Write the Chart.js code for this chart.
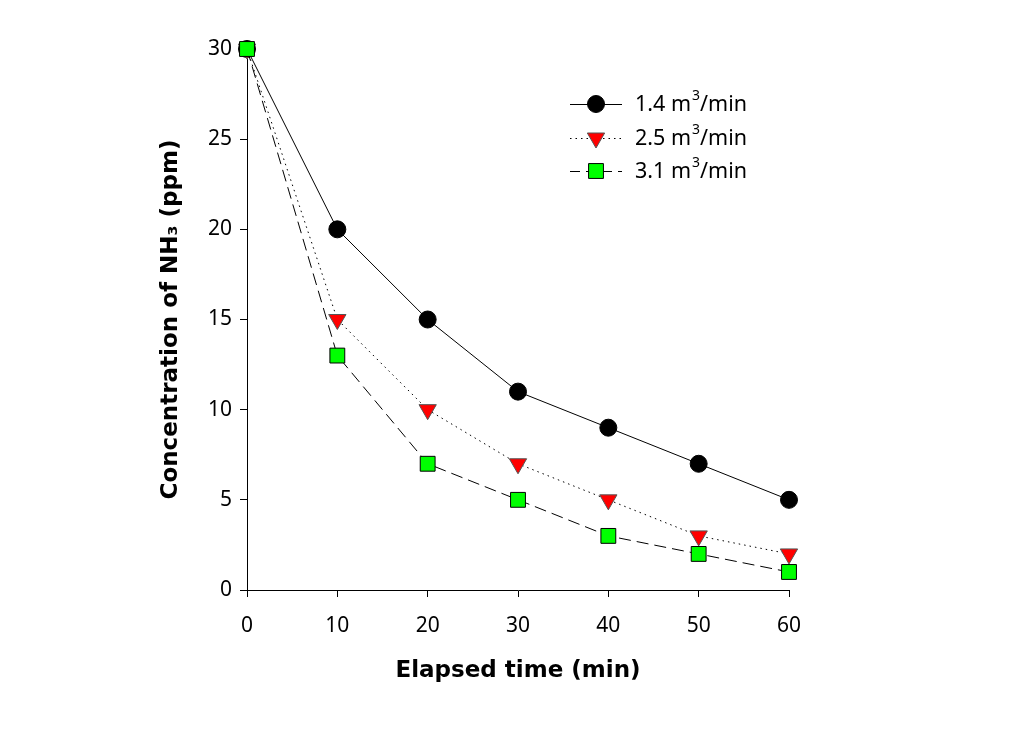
<!DOCTYPE html>
<html>
<head>
  <title>NH3 concentration</title>
  <script src="https://cdn.jsdelivr.net/npm/chart.js@4"></script>
  <style>
    body { margin: 0; background: #fff; }
    #wrap { width: 1012px; height: 732px; }
  </style>
</head>
<body>
<div id="wrap"><canvas id="chart"></canvas></div>
<script>
  // elapsed time (min)
  const times = [0, 10, 20, 30, 40, 50, 60];
  // NH3 concentration (ppm) for each air flow
  const flow14 = [30, 20, 15, 11, 9, 7, 5];
  const flow25 = [30, 15, 10, 7, 5, 3, 2];
  const flow31 = [30, 13, 7, 5, 3, 2, 1];
  const flowLabels = ['1.4', '2.5', '3.1'];

  const FONT = '"Noto Sans", "DejaVu Sans", sans-serif';
  const TITLE_FONT = '"DejaVu Sans", sans-serif';

  const pts = (ys) => times.map((t, i) => ({x: t, y: ys[i]}));

  const styles = [
    {pointStyle: 'circle', radius: 8.5, rotation: 0, bg: '#000', border: '#000', dash: []},
    {pointStyle: 'triangle', radius: 10, rotation: 180, bg: '#ff0000', border: '#555', dash: [1.5, 4]},
    {pointStyle: 'rect', radius: 10.5, rotation: 0, bg: '#00ff00', border: '#000', dash: [12, 6]}
  ];
  const series = [flow14, flow25, flow31];

  const datasets = series.map((ys, i) => ({
    label: flowLabels[i] + ' m³/min',
    data: pts(ys),
    borderColor: '#000',
    borderWidth: 1,
    borderDash: styles[i].dash,
    pointStyle: styles[i].pointStyle,
    pointRadius: styles[i].radius,
    pointHoverRadius: styles[i].radius,
    pointRotation: styles[i].rotation,
    pointBackgroundColor: styles[i].bg,
    pointBorderColor: styles[i].border,
    pointBorderWidth: 1,
    tension: 0,
    clip: false,
    order: 2 - i
  }));

  // legend drawn by hand so the line sample and superscript look right
  const legendPlugin = {
    id: 'handLegend',
    afterDraw(chart) {
      const ctx = chart.ctx;
      const rowsY = [104, 138, 171];
      ctx.save();
      rowsY.forEach((y, i) => {
        const s = styles[i];
        ctx.strokeStyle = '#000';
        ctx.lineWidth = 1;
        ctx.setLineDash(s.dash.length ? (i === 2 ? [10, 6] : s.dash) : []);
        ctx.beginPath();
        ctx.moveTo(570, y + 0.5);
        ctx.lineTo(622, y + 0.5);
        ctx.stroke();
        ctx.setLineDash([]);
        ctx.fillStyle = s.bg;
        ctx.strokeStyle = s.border;
        Chart.helpers.drawPoint(ctx, {
          pointStyle: s.pointStyle, radius: s.radius, rotation: s.rotation, borderWidth: 1
        }, 596, y);

        ctx.fillStyle = '#000';
        ctx.textBaseline = 'middle';
        ctx.textAlign = 'left';
        ctx.font = '21.5px ' + FONT;
        let x = 635;
        const a = flowLabels[i] + ' m';
        ctx.fillText(a, x, y + 1);
        x += ctx.measureText(a).width;
        ctx.font = '14px ' + FONT;
        ctx.fillText('3', x + 1, y - 8);
        x += ctx.measureText('3').width + 1;
        ctx.font = '21.5px ' + FONT;
        ctx.fillText('/min', x, y + 1);
      });
      ctx.restore();
    }
  };

  new Chart(document.getElementById('chart'), {
    type: 'line',
    data: {datasets},
    options: {
      responsive: true,
      maintainAspectRatio: false,
      animation: false,
      events: [],
      layout: {padding: {left: 0, top: 49, right: 223, bottom: 0}},
      plugins: {legend: {display: false}, tooltip: {enabled: false}},
      scales: {
        x: {
          type: 'linear',
          min: 0, max: 60,
          afterFit: (s) => { s.height = 142; },
          ticks: {stepSize: 10, color: '#000', padding: 16, font: {family: FONT, size: 21}},
          grid: {drawOnChartArea: false, drawTicks: true, tickLength: 7, color: '#000'},
          border: {color: '#000', width: 1},
          title: {
            display: true, text: 'Elapsed time (min)', color: '#000',
            font: {family: TITLE_FONT, size: 23, weight: 'bold'},
            padding: {top: 0, bottom: 47}
          }
        },
        y: {
          min: 0, max: 30,
          afterFit: (s) => { s.width = 247; },
          ticks: {stepSize: 5, color: '#000', padding: 8, font: {family: FONT, size: 21}},
          grid: {drawOnChartArea: false, drawTicks: true, tickLength: 7, color: '#000'},
          border: {color: '#000', width: 1},
          title: {
            display: true, text: 'Concentration of NH₃ (ppm)', color: '#000',
            font: {family: TITLE_FONT, size: 23, weight: 'bold'},
            padding: {top: 157, bottom: 0}
          }
        }
      }
    },
    plugins: [legendPlugin]
  });
</script>
</body>
</html>
